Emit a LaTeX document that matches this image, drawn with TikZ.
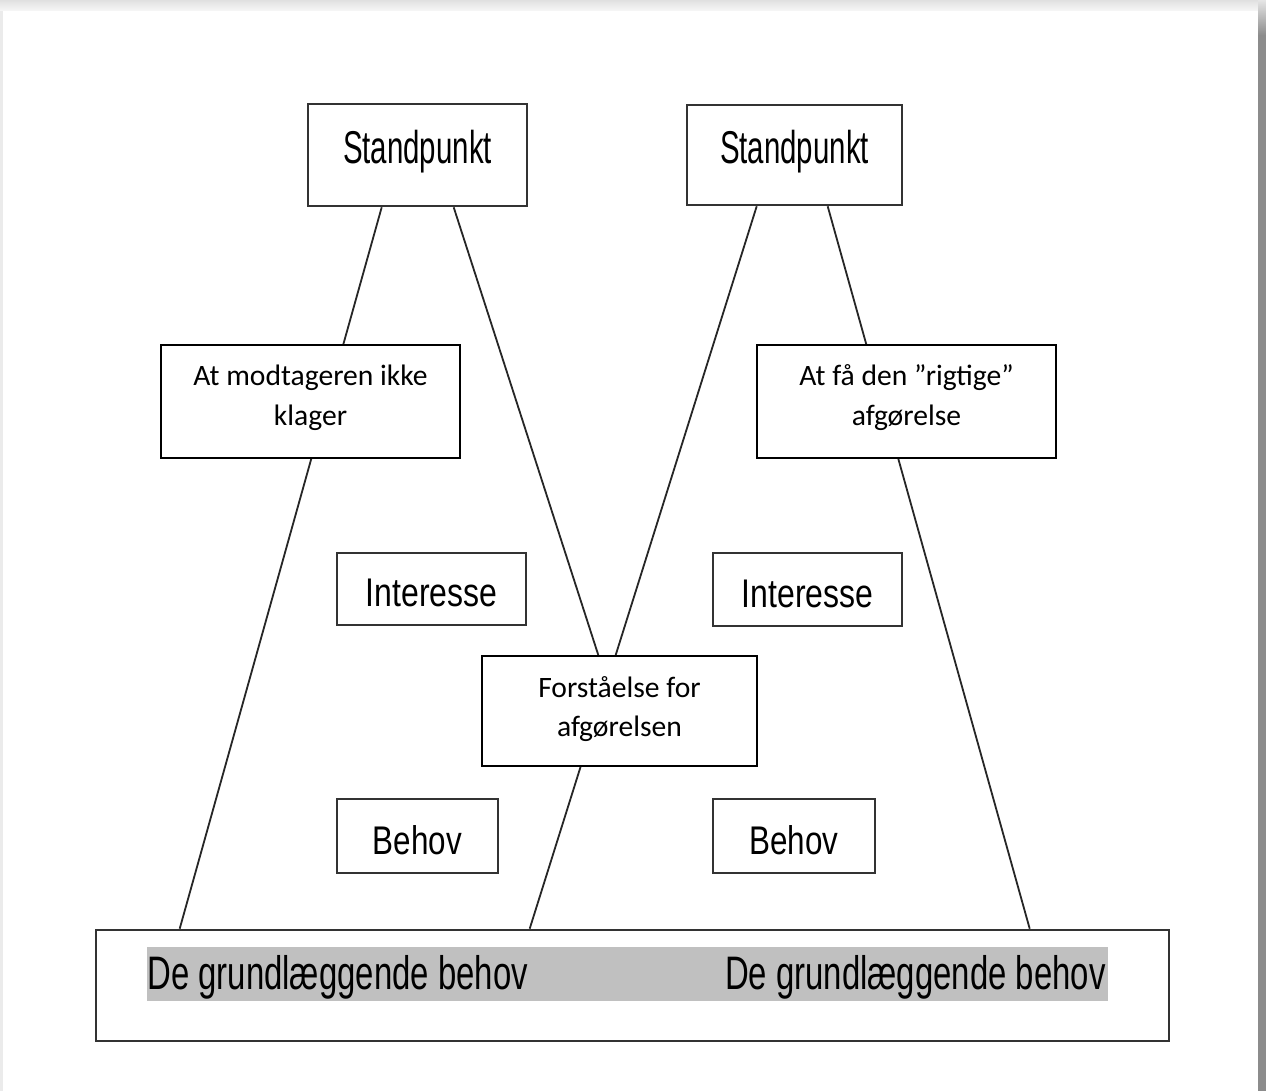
\documentclass[tikz,border=0pt]{standalone}
\usepackage{fontspec}
\usepackage{graphicx}
\setmainfont{Carlito}
\newfontfamily\arialf{Liberation Sans}
\usetikzlibrary{calc}
\pgfdeclarelayer{paper}
\pgfdeclarelayer{lines}
\pgfsetlayers{paper,lines,main}
% narrow sans label: size (pt), horizontal squeeze, text
\newcommand\narrowtext[3]{{\arialf\fontsize{#1}{#1}\selectfont\scalebox{#2}[1]{#3}}}
\tikzset{
  wh/.style 2 args={minimum width=#1*0.5pt, minimum height=#2*0.5pt},
  link/.style={draw=black!85, line width=0.9pt},
  figbox/.style={rectangle, draw=black!80, line width=1.3pt, fill=white, inner sep=0pt},
  notebox/.style={rectangle, draw=black, line width=1pt, fill=white, inner sep=0pt,
    align=center, font=\fontsize{14.8}{19.75}\selectfont},
  hlbox/.style={rectangle, fill={rgb,255:red,192;green,192;blue,192}, inner sep=0pt},
  basetext/.style={inner sep=0pt},
}
\begin{document}
\begin{tikzpicture}[x=0.5pt, y=-0.5pt]
\useasboundingbox (0,0) rectangle (1266,1091);

% page with its drop shadow
\begin{pgfonlayer}{paper}
  \fill[black!8] (0,0) rectangle (1266,1091);
  \shade[top color=black!12, bottom color=black!3] (0,0) rectangle (1266,11);
  \fill[white] (3,11) rectangle (1258,1091);
  \shade[top color=black!10, bottom color=black!45] (1258,0) rectangle (1266,35);
  \fill[black!45] (1258,35) rectangle (1266,1091);
\end{pgfonlayer}

% positions
\node[figbox, wh={219}{102}, text height=16pt, text depth=7pt] (sp1) at (417.5,155)
  {\narrowtext{23}{0.64}{Standpunkt}};
\node[figbox, wh={215}{100}, text height=16pt, text depth=7pt] (sp2) at (794.5,155)
  {\narrowtext{23}{0.64}{Standpunkt}};

% interests
\node[figbox, wh={189}{72}, text height=20pt, text depth=2pt] (int1) at (431.5,589)
  {\narrowtext{20}{0.80}{Interesse}};
\node[figbox, wh={189}{73}, text height=20pt, text depth=2pt] (int2) at (807.5,589.5)
  {\narrowtext{20}{0.80}{Interesse}};

% needs
\node[figbox, wh={161}{74}, text height=21pt, text depth=2pt] (beh1) at (417.5,836)
  {\narrowtext{20}{0.785}{Behov}};
\node[figbox, wh={162}{74}, text height=21pt, text depth=2pt] (beh2) at (794,836)
  {\narrowtext{20}{0.785}{Behov}};

% common base
\node[figbox, wh={1073}{111}] (base) at (632.5,985.5) {};
\node[hlbox, wh={961}{54}] (hl) at (627.5,974) {};
\node[basetext, anchor=base west] (bt1) at (147,989)
  {\narrowtext{23.5}{0.70}{De grundlæggende behov}};
\node[basetext, anchor=base east] (bt2) at (1106,989)
  {\narrowtext{23.5}{0.70}{De grundlæggende behov}};

% connectors, behind the boxes
\coordinate (cross) at (607,682);
\begin{pgfonlayer}{lines}
  \draw[link] ($(sp1.south west)+(75,0)$) -- ($(base.north west)+(85,0)$);
  \draw[link] ($(sp1.south west)+(147,0)$) -- (cross);
  \draw[link] ($(sp2.south west)+(71,0)$) -- ($(base.north west)+(435,0)$);
  \draw[link] ($(sp2.south west)+(142,0)$) -- ($(base.north west)+(935,0)$);
\end{pgfonlayer}

% annotations
\node[notebox, wh={299}{113}, text height=30pt, text depth=6pt] (ta) at (310.5,401.5)
  {At modtageren ikke\\klager};
\node[notebox, wh={299}{113}, text height=30pt, text depth=6pt] (tc) at (906.5,401.5)
  {At få den ”rigtige”\\afgørelse};
\node[notebox, wh={275}{110}, text height=30pt, text depth=4pt] (tf) at (619.5,711)
  {Forståelse for\\afgørelsen};
\end{tikzpicture}
\end{document}
